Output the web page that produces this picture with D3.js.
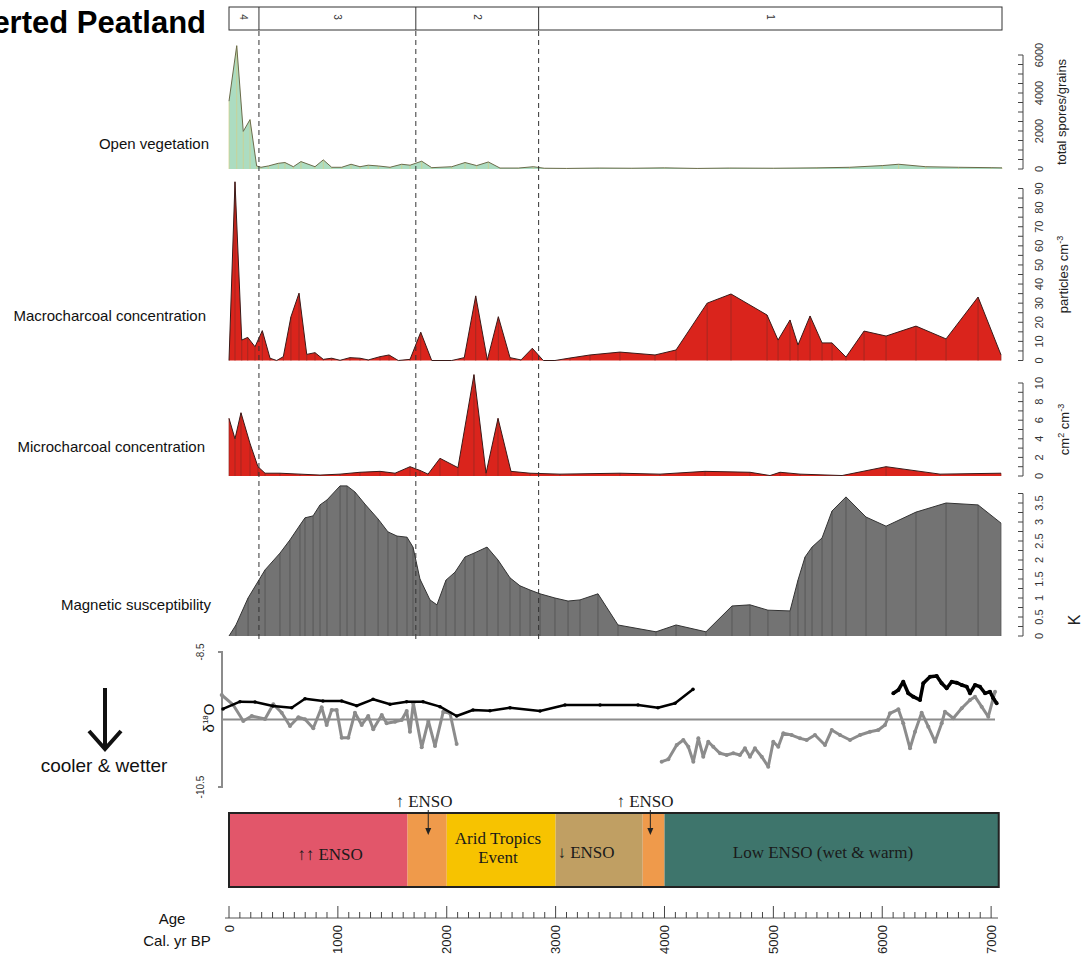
<!DOCTYPE html>
<html>
<head>
<meta charset="utf-8">
<script src="https://cdn.jsdelivr.net/npm/d3@7"></script>
<style>
body { margin: 0; background: #fff; }
svg { display: block; font-family: "Liberation Sans", Arial, sans-serif; }
</style>
</head>
<body>
<svg id="chart" width="1086" height="970"></svg>
<script>
// zones (cal. yr BP)
var zoneBreaks = [0, 275, 1716, 2844, 7100];
var zoneNames = ["4", "3", "2", "1"];

// open vegetation, total spores/grains
var vegAge = [0, 71, 131, 193, 254, 294, 361, 453, 514, 591, 661, 790, 866, 943, 1035, 1121, 1203, 1279, 1371, 1479, 1586, 1663, 1770, 1862, 2046, 2168, 2275, 2382, 2489, 2657, 2795, 2896, 3100, 3400, 3700, 4000, 4300, 4600, 5000, 5400, 5700, 6000, 6150, 6400, 6700, 7000, 7100];
var vegVal = [3570, 6490, 1980, 2600, 160, 90, 160, 300, 340, 120, 390, 120, 480, 90, 90, 250, 120, 200, 160, 90, 250, 200, 410, 70, 120, 340, 180, 370, 50, 50, 120, 40, 30, 50, 40, 60, 30, 50, 40, 60, 90, 180, 250, 120, 90, 70, 60];

// macrocharcoal, particles cm-3
var macroAge = [0, 55, 117, 172, 239, 306, 377, 438, 499, 569, 643, 714, 790, 866, 943, 1020, 1111, 1203, 1279, 1387, 1470, 1555, 1663, 1761, 1862, 2046, 2161, 2266, 2373, 2474, 2581, 2682, 2786, 2887, 2994, 3132, 3316, 3591, 3913, 4106, 4392, 4611, 4942, 5043, 5153, 5226, 5337, 5447, 5539, 5667, 5833, 6035, 6310, 6586, 6880, 7091];
var macroVal = [0, 93.5, 10.7, 12.1, 7.2, 15.6, 1.2, 0, 2, 22.9, 35.2, 3.2, 4.1, 0.6, 1.2, 0.1, 1.5, 1.2, 0.3, 2, 2.9, 0, 0.6, 14.8, 0, 0, 1.5, 33.8, 0.3, 22.9, 1.5, 0.3, 6.4, 0, 0, 1.3, 2.9, 4.4, 2.9, 5.5, 30, 34.8, 23.8, 10.7, 21.2, 8.1, 23.3, 9.2, 9.2, 1.8, 15.4, 12.8, 18, 11.3, 33.2, 2.9];

// microcharcoal, cm2 cm-3
var microAge = [0, 55, 110, 193, 266, 331, 468, 652, 836, 1020, 1203, 1387, 1525, 1663, 1754, 1828, 1938, 2103, 2250, 2361, 2471, 2590, 2765, 3040, 3591, 3959, 4372, 4785, 4969, 5061, 5245, 5631, 6035, 6531, 7091];
var microVal = [6.2, 4.0, 6.8, 3.5, 1.0, 0.3, 0.3, 0.2, 0.1, 0.2, 0.4, 0.5, 0.3, 1.0, 0.6, 0.2, 1.9, 0.9, 10.9, 0.3, 6.2, 0.5, 0.3, 0.2, 0.3, 0.2, 0.5, 0.4, 0.05, 0.4, 0.2, 0.05, 1.0, 0.2, 0.3];

// magnetic susceptibility, K
var magAge = [0, 64, 175, 331, 468, 560, 652, 698, 772, 836, 900, 1020, 1084, 1157, 1249, 1369, 1460, 1543, 1635, 1690, 1754, 1846, 1910, 1993, 2076, 2168, 2250, 2370, 2471, 2581, 2673, 2765, 2857, 2994, 3114, 3224, 3389, 3573, 3922, 4106, 4381, 4620, 4785, 4950, 5153, 5226, 5291, 5355, 5447, 5539, 5667, 5851, 6035, 6310, 6586, 6880, 7091];
var magVal = [0, 0.29, 1.0, 1.74, 2.18, 2.53, 2.92, 3.11, 3.16, 3.45, 3.58, 3.95, 3.95, 3.79, 3.47, 3.08, 2.74, 2.63, 2.6, 2.34, 1.5, 0.95, 0.82, 1.47, 1.68, 2.08, 2.18, 2.34, 2.0, 1.53, 1.32, 1.21, 1.11, 1.0, 0.92, 0.95, 1.11, 0.29, 0.11, 0.29, 0.11, 0.79, 0.82, 0.68, 0.66, 1.47, 2.08, 2.34, 2.58, 3.29, 3.66, 3.13, 2.89, 3.26, 3.5, 3.45, 2.97];

// d18O records
var blackAge1 = [-55, 101, 239, 404, 576, 698, 863, 1035, 1173, 1323, 1479, 1632, 1782, 1938, 2091, 2241, 2397, 2581, 2857, 3086, 3408, 3757, 3940, 4097, 4262];
var blackVal1 = [-9.344, -9.236, -9.241, -9.3, -9.325, -9.192, -9.226, -9.226, -9.296, -9.201, -9.275, -9.236, -9.236, -9.31, -9.448, -9.359, -9.37, -9.325, -9.374, -9.285, -9.285, -9.285, -9.325, -9.26, -9.053];
var blackAge2 = [6102, 6148, 6193, 6239, 6285, 6347, 6377, 6439, 6500, 6546, 6592, 6638, 6684, 6730, 6776, 6806, 6852, 6898, 6944, 6990, 7020, 7051];
var blackVal2 = [-9.112, -9.063, -8.94, -9.112, -9.162, -9.211, -8.964, -8.866, -8.856, -8.964, -9.038, -8.94, -8.955, -8.989, -9.014, -9.112, -8.989, -9.014, -9.112, -9.088, -9.186, -9.26];
var grayAge1 = [-67, 39, 131, 209, 331, 407, 484, 560, 637, 698, 774, 851, 897, 943, 989, 1035, 1096, 1157, 1219, 1279, 1325, 1403, 1448, 1525, 1586, 1632, 1662, 1693, 1770, 1831, 1892, 1968, 2030, 2091];
var grayVal1 = [-9.137, -9.285, -9.522, -9.448, -9.493, -9.275, -9.399, -9.596, -9.467, -9.497, -9.63, -9.319, -9.581, -9.359, -9.359, -9.77, -9.77, -9.399, -9.581, -9.448, -9.645, -9.433, -9.556, -9.533, -9.507, -9.374, -9.681, -9.26, -9.912, -9.522, -9.893, -9.384, -9.408, -9.863];
var grayAge2 = [3974, 4035, 4112, 4173, 4219, 4265, 4311, 4356, 4402, 4448, 4510, 4571, 4632, 4693, 4739, 4785, 4831, 4893, 4953, 4999, 5045, 5091, 5168, 5245, 5306, 5382, 5474, 5536, 5612, 5704, 5796, 5888, 5964, 6025, 6071, 6148, 6193, 6255, 6301, 6362, 6423, 6485, 6546, 6576, 6653, 6730, 6806, 6852, 6913, 6974, 7036];
var grayVal2 = [-10.125, -10.09, -9.878, -9.804, -9.903, -10.125, -9.779, -10.051, -9.829, -9.903, -10.001, -10.026, -10.001, -10.026, -9.927, -10.051, -9.927, -10.051, -10.199, -9.829, -9.903, -9.704, -9.73, -9.779, -9.804, -9.73, -9.878, -9.656, -9.73, -9.804, -9.73, -9.681, -9.656, -9.581, -9.408, -9.349, -9.556, -9.927, -9.681, -9.399, -9.607, -9.829, -9.556, -9.384, -9.482, -9.334, -9.211, -9.162, -9.31, -9.459, -9.088];

// ENSO phases
var ensoStart = [0, 1640, 2000, 3000, 3800, 4000];
var ensoEnd = [1640, 2000, 3000, 3800, 4000, 7070];
var ensoColor = ["#e2566a", "#ef9a4b", "#f7c300", "#c09f63", "#ef9a4b", "#3e756c"];

var ageTicks = [0, 1000, 2000, 3000, 4000, 5000, 6000, 7000];

var svg = d3.select("#chart");
var x = d3.scaleLinear().domain([0, 7100]).range([229, 1002]);

var zip = function(a, v) {
  return a.map(function(d, i) { return {age: d, v: v[i]}; });
};

// area panel with sample lines, like the R strat plot
var drawArea = function(ages, vals, y, fill, stroke, sample) {
  var pts = zip(ages, vals);
  var g = svg.append("g");
  g.append("path")
    .attr("d", d3.area().x(function(d){ return x(d.age); }).y0(y(0)).y1(function(d){ return y(d.v); })(pts))
    .attr("fill", fill);
  g.selectAll("line.s").data(pts).enter().append("line")
    .attr("x1", function(d){ return x(d.age); })
    .attr("x2", function(d){ return x(d.age); })
    .attr("y1", y(0))
    .attr("y2", function(d){ return y(d.v); })
    .attr("stroke", sample)
    .attr("stroke-width", 0.7);
  g.append("path")
    .attr("d", d3.line().x(function(d){ return x(d.age); }).y(function(d){ return y(d.v); })(pts))
    .attr("fill", "none")
    .attr("stroke", stroke)
    .attr("stroke-width", 1);
};

// right hand axis, labels parallel to the axis
var drawRightAxis = function(y, majors, step, top, title, titleX, sup) {
  var g = svg.append("g");
  var minors = d3.range(0, top + step / 2, step);
  g.append("line").attr("x1", 1023).attr("x2", 1023)
    .attr("y1", y(0)).attr("y2", y(top))
    .attr("stroke", "#444").attr("stroke-width", 1);
  g.selectAll("line.t").data(minors).enter().append("line")
    .attr("x1", 1018).attr("x2", 1023)
    .attr("y1", function(d){ return y(d); })
    .attr("y2", function(d){ return y(d); })
    .attr("stroke", "#444").attr("stroke-width", 1);
  g.selectAll("text.l").data(majors).enter().append("text")
    .attr("transform", function(d){ return "translate(1043," + y(d) + ") rotate(-90)"; })
    .attr("text-anchor", "middle")
    .style("font-size", "11px")
    .attr("fill", "#333")
    .text(function(d){ return d; });
  if (title) {
    var t = g.append("text")
      .attr("transform", "translate(" + titleX + "," + ((y(0) + y(top)) / 2) + ") rotate(-90)")
      .attr("text-anchor", "middle")
      .style("font-size", "13px")
      .attr("fill", "#222");
    t.append("tspan").text(title);
    if (sup) {
      t.append("tspan").attr("dy", "-5").style("font-size", "9px").text(sup);
    }
  }
};

var yVeg = d3.scaleLinear().domain([0, 6000]).range([169, 55]);
var yMacro = d3.scaleLinear().domain([0, 90]).range([360.5, 188.5]);
var yMicro = d3.scaleLinear().domain([0, 10]).range([476, 383]);
var yMag = d3.scaleLinear().domain([0, 3.75]).range([636, 493.5]);
var yO = d3.scaleLinear().domain([-10.5, -8.5]).range([787, 652]);

drawArea(vegAge, vegVal, yVeg, "#acdcc1", "#6b6b4a", "#d6cf86");
drawArea(macroAge, macroVal, yMacro, "#da241c", "#3a1a18", "#8e2a22");
drawArea(microAge, microVal, yMicro, "#da241c", "#3a1a18", "#8e2a22");
drawArea(magAge, magVal, yMag, "#737373", "#333", "#4d4d4d");

drawRightAxis(yVeg, [0, 2000, 4000, 6000], 500, 6000, "total spores/grains", 1066);
drawRightAxis(yMacro, d3.range(0, 91, 10), 5, 90, "particles cm", 1068, "-3");
drawRightAxis(yMicro, [0, 2, 4, 6, 8, 10], 1, 10, "", 1069);
drawRightAxis(yMag, [0, 0.5, 1, 1.5, 2, 2.5, 3, 3.5], 0.25, 3.75, "", 1075);

var microAxisTitle = svg.append("text")
  .attr("transform", "translate(1069," + ((yMicro(0) + yMicro(10)) / 2) + ") rotate(-90)")
  .attr("text-anchor", "middle").style("font-size", "13px").attr("fill", "#222");
microAxisTitle.append("tspan").text("cm");
microAxisTitle.append("tspan").attr("dy", "-5").style("font-size", "9px").text("2");
microAxisTitle.append("tspan").attr("dy", "5").text(" cm");
microAxisTitle.append("tspan").attr("dy", "-5").style("font-size", "9px").text("-3");
svg.append("text")
  .attr("transform", "translate(1080,620) rotate(-90)")
  .attr("text-anchor", "middle").style("font-size", "16px").attr("fill", "#222")
  .text("K");

// zone bar and dashed zone lines
svg.append("rect").attr("x", x(0)).attr("y", 7)
  .attr("width", x(7100) - x(0)).attr("height", 23)
  .attr("fill", "none").attr("stroke", "#333").attr("stroke-width", 1);
svg.selectAll("line.zb").data(zoneBreaks.slice(1, 4)).enter().append("line")
  .attr("x1", function(d){ return x(d); }).attr("x2", function(d){ return x(d); })
  .attr("y1", 7).attr("y2", 30)
  .attr("stroke", "#333").attr("stroke-width", 1);
svg.selectAll("line.zd").data(zoneBreaks.slice(1, 4)).enter().append("line")
  .attr("x1", function(d){ return x(d); }).attr("x2", function(d){ return x(d); })
  .attr("y1", 31).attr("y2", 640)
  .attr("stroke", "#333").attr("stroke-width", 1)
  .attr("stroke-dasharray", "5,4");
svg.selectAll("text.zn").data(zoneNames).enter().append("text")
  .attr("transform", function(d, i){
    return "translate(" + ((x(zoneBreaks[i]) + x(zoneBreaks[i + 1])) / 2) + ",17) rotate(90)";
  })
  .attr("text-anchor", "middle").attr("dy", "0.35em")
  .style("font-size", "10px").attr("fill", "#333")
  .text(function(d){ return d; });

svg.append("text").attr("x", 206).attr("y", 33)
  .attr("text-anchor", "end")
  .style("font-size", "31px").style("font-weight", "bold")
  .text("Converted Peatland");

var panelLabels = [["Open vegetation", 209, 149], ["Macrocharcoal concentration", 206, 321],
  ["Microcharcoal concentration", 205, 452], ["Magnetic susceptibility", 211, 610]];
panelLabels.forEach(function(p) {
  svg.append("text").attr("x", p[1]).attr("y", p[2])
    .attr("text-anchor", "end").style("font-size", "15px").attr("fill", "#111")
    .text(p[0]);
});

// d18O panel
svg.append("line").attr("x1", 222).attr("x2", 995)
  .attr("y1", yO(-9.5)).attr("y2", yO(-9.5))
  .attr("stroke", "#8c8c8c").attr("stroke-width", 2);
svg.append("path")
  .attr("d", "M218," + yO(-8.5) + "H222V" + yO(-10.5) + "H218")
  .attr("fill", "none").attr("stroke", "#8c8c8c").attr("stroke-width", 2);
svg.selectAll("text.ol").data([-8.5, -10.5]).enter().append("text")
  .attr("transform", function(d){ return "translate(204," + yO(d) + ") rotate(-90)"; })
  .attr("text-anchor", "middle")
  .style("font-size", "10px").attr("fill", "#333")
  .text(function(d){ return d.toFixed(1); });
var oLabel = svg.append("text")
  .attr("transform", "translate(214,718) rotate(-90)")
  .attr("text-anchor", "middle").style("font-size", "15px").attr("fill", "#111");
oLabel.append("tspan").text("δ");
oLabel.append("tspan").attr("dy", "-6").style("font-size", "8px").text("18");
oLabel.append("tspan").attr("dy", "6").text("O");

var oLine = d3.line().x(function(d){ return x(d.age); }).y(function(d){ return yO(d.v); });
var drawO = function(ages, vals, color, width, r) {
  var pts = zip(ages, vals);
  svg.append("path").attr("d", oLine(pts))
    .attr("fill", "none").attr("stroke", color).attr("stroke-width", width)
    .attr("stroke-linejoin", "round");
  svg.selectAll(null).data(pts).enter().append("circle")
    .attr("cx", function(d){ return x(d.age); })
    .attr("cy", function(d){ return yO(d.v); })
    .attr("r", r).attr("fill", color);
};
drawO(grayAge1, grayVal1, "#8c8c8c", 3, 2);
drawO(grayAge2, grayVal2, "#8c8c8c", 3, 2);
drawO(blackAge1, blackVal1, "#000", 2.5, 1.8);
drawO(blackAge2, blackVal2, "#000", 3.5, 2);

// cooler & wetter arrow
svg.append("line").attr("x1", 105).attr("x2", 105).attr("y1", 688).attr("y2", 748)
  .attr("stroke", "#111").attr("stroke-width", 4);
svg.append("path").attr("d", "M89,731L105,749L121,731")
  .attr("fill", "none").attr("stroke", "#111").attr("stroke-width", 4);
svg.append("text").attr("x", 104).attr("y", 772)
  .attr("text-anchor", "middle").style("font-size", "19px").attr("fill", "#111")
  .text("cooler & wetter");

// ENSO bar
svg.selectAll("rect.enso").data(ensoStart).enter().append("rect")
  .attr("x", function(d){ return x(d); })
  .attr("y", 813)
  .attr("width", function(d, i){ return x(ensoEnd[i]) - x(d); })
  .attr("height", 74)
  .attr("fill", function(d, i){ return ensoColor[i]; });
svg.append("rect").attr("x", x(0)).attr("y", 813)
  .attr("width", x(7070) - x(0)).attr("height", 74)
  .attr("fill", "none").attr("stroke", "#222").attr("stroke-width", 2);

var serif = "'Liberation Serif', 'Times New Roman', serif";
var ensoText = [["↑↑ ENSO", 330, 860], ["Arid Tropics", 498, 844], ["Event", 498, 863],
  ["↓ ENSO", 586, 858], ["Low ENSO (wet & warm)", 823, 858], ["↑ ENSO", 424, 807], ["↑ ENSO", 645, 807]];
ensoText.forEach(function(t) {
  svg.append("text").attr("x", t[1]).attr("y", t[2])
    .attr("text-anchor", "middle")
    .style("font-family", serif).style("font-size", "17px").attr("fill", "#1a1a1a")
    .text(t[0]);
});
[1830, 3870].forEach(function(a) {
  var xa = x(a);
  svg.append("line").attr("x1", xa).attr("x2", xa).attr("y1", 810).attr("y2", 832)
    .attr("stroke", "#222").attr("stroke-width", 1);
  svg.append("path").attr("d", "M" + (xa - 3) + ",828L" + xa + ",835L" + (xa + 3) + ",828Z")
    .attr("fill", "#222");
});

// age axis
var ageAxis = svg.append("g");
ageAxis.append("line").attr("x1", 225).attr("x2", 998).attr("y1", 918).attr("y2", 918)
  .attr("stroke", "#555").attr("stroke-width", 1.2);
ageAxis.selectAll("line.mt").data(d3.range(0, 7001, 100)).enter().append("line")
  .attr("x1", function(d){ return x(d); }).attr("x2", function(d){ return x(d); })
  .attr("y1", function(d){ return d % 1000 === 0 ? 906 : 912; })
  .attr("y2", 918)
  .attr("stroke", "#444").attr("stroke-width", 1);
ageAxis.selectAll("text").data(ageTicks).enter().append("text")
  .attr("transform", function(d){ return "translate(" + x(d) + ",925) rotate(-90)"; })
  .attr("text-anchor", "end").attr("dy", "0.35em")
  .style("font-size", "13px").attr("fill", "#222")
  .text(function(d){ return d; });
svg.append("text").attr("x", 172).attr("y", 924).attr("text-anchor", "middle")
  .style("font-size", "15px").attr("fill", "#111").text("Age");
svg.append("text").attr("x", 177).attr("y", 946).attr("text-anchor", "middle")
  .style("font-size", "15px").attr("fill", "#111").text("Cal. yr BP");
</script>
</body>
</html>
